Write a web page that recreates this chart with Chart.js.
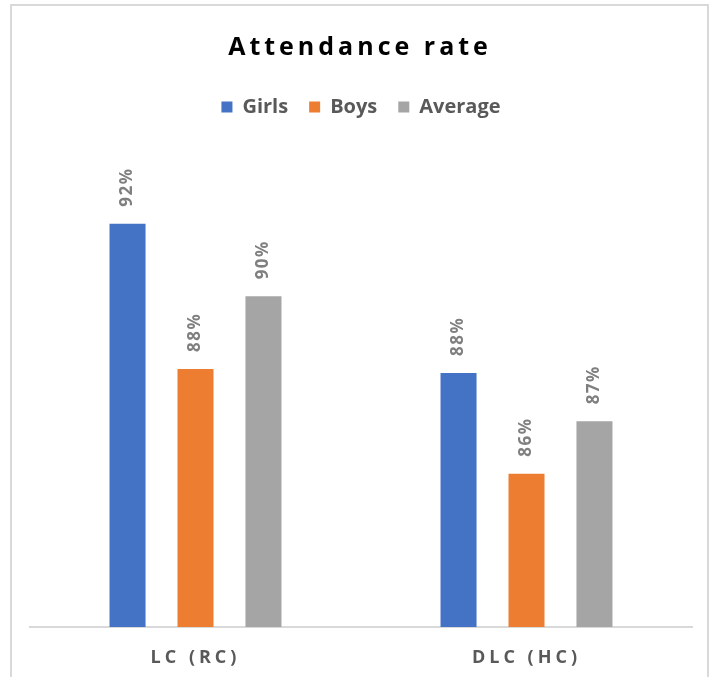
<!DOCTYPE html>
<html>
<head>
<meta charset="utf-8">
<script src="https://cdn.jsdelivr.net/npm/chart.js@4"></script>
<style>
  html, body { margin: 0; padding: 0; background: #fff; }
  #wrap { position: relative; width: 714px; height: 677px; overflow: hidden; }
  #frame {
    position: absolute; left: 10px; top: 4px; width: 695px; height: 720px;
    border: 2px solid #d9d9d9; pointer-events: none;
  }
</style>
</head>
<body>
<div id="wrap">
  <canvas id="chart"></canvas>
  <div id="frame"></div>
</div>
<script>
const CATEGORIES = ['LC (RC)', 'DLC (HC)'];
const GIRLS = [92.0, 88.3];
const BOYS = [88.4, 85.8];
const AVERAGE = [90.2, 87.1];

const COLORS = { girls: '#4472C4', boys: '#ED7D31', average: '#A5A5A5' };
const FONT = '"Open Sans", "Liberation Sans", sans-serif';

// only the category labels are spaced out; they are drawn after the bars (ticks.z = 1)
const spacedTicks = {
  id: 'spacedTicks',
  beforeDraw(chart) { chart.ctx.letterSpacing = '0px'; },
  afterDatasetsDraw(chart) { chart.ctx.letterSpacing = '4px'; },
  afterDraw(chart) { chart.ctx.letterSpacing = '0px'; },
};

// rotated value labels above each bar
const barLabels = {
  id: 'barLabels',
  afterDatasetsDraw(chart) {
    const ctx = chart.ctx;
    ctx.save();
    ctx.font = 'bold 17px ' + FONT;
    ctx.fillStyle = '#7f7f7f';
    ctx.letterSpacing = '1.5px';
    ctx.textAlign = 'left';
    ctx.textBaseline = 'middle';
    chart.data.datasets.forEach((ds, i) => {
      chart.getDatasetMeta(i).data.forEach((bar, j) => {
        ctx.save();
        ctx.translate(bar.x, bar.y - 17);
        ctx.rotate(-Math.PI / 2);
        ctx.fillText(Math.round(ds.data[j]) + '%', 0, 0);
        ctx.restore();
      });
    });
    ctx.restore();
  },
};

const spacedTitle = {
  id: 'spacedTitle',
  afterDraw(chart) {
    const ctx = chart.ctx;
    ctx.save();
    ctx.font = 'bold 25px ' + FONT;
    ctx.fillStyle = '#000';
    ctx.letterSpacing = '4px';
    ctx.textAlign = 'center';
    ctx.textBaseline = 'alphabetic';
    ctx.fillText('Attendance rate', 358 + 2, 55);
    ctx.restore();
  },
};

new Chart(document.getElementById('chart'), {
  type: 'bar',
  data: {
    labels: CATEGORIES,
    datasets: [
      { label: 'Girls', data: GIRLS, backgroundColor: COLORS.girls },
      { label: 'Boys', data: BOYS, backgroundColor: COLORS.boys },
      { label: 'Average', data: AVERAGE, backgroundColor: COLORS.average },
    ],
  },
  options: {
    responsive: true,
    maintainAspectRatio: false,
    animation: false,
    categoryPercentage: 0.616,
    barPercentage: 0.53,
    layout: { padding: { top: 76, left: 30, right: 22, bottom: 0 } },
    plugins: {
      title: { display: false },
      tooltip: { enabled: false },
      legend: {
        position: 'top',
        labels: {
          color: '#595959',
          font: { family: FONT, size: 20, weight: 'bold' },
          boxWidth: 11,
          boxHeight: 11,
          padding: 21,
        },
      },
    },
    scales: {
      x: {
        grid: { display: false, drawTicks: false },
        border: { display: true, color: '#d9d9d9', width: 2 },
        ticks: {
          z: 1,
          color: '#595959',
          padding: 20,
          font: { family: FONT, size: 18, weight: 'bold' },
        },
        afterFit(scale) { scale.height = 50; },
      },
      y: {
        display: false,
        min: 82,
        max: 94.4,
      },
    },
  },
  plugins: [barLabels, spacedTicks, spacedTitle],
});
</script>
</body>
</html>
